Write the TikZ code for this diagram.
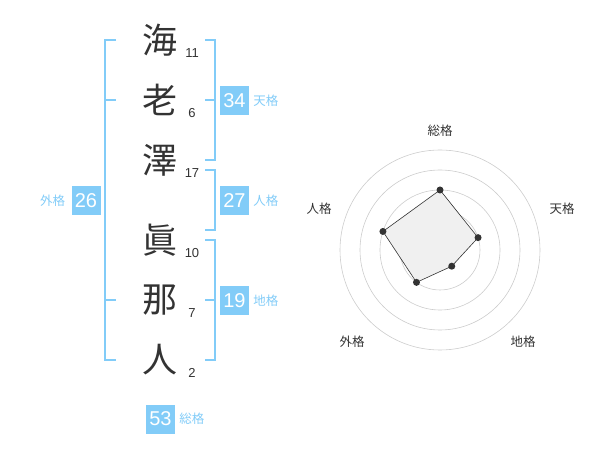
\documentclass[tikz,border=0pt]{standalone}
\usepackage{fontspec}
\setmainfont{Liberation Sans}
\newfontfamily\cjk{Noto Sans CJK JP}
\usetikzlibrary{positioning}
\definecolor{kakublue}{RGB}{130,204,248}
\definecolor{inkgray}{RGB}{51,51,51}
\definecolor{ringgray}{RGB}{204,204,204}
\begin{document}
\begin{tikzpicture}[x=1pt,y=-1pt,
bracket/.style = {draw=kakublue, line width=2pt},
kanji/.style = {text=inkgray, font=\cjk\fontsize{35}{35}\selectfont, inner sep=0pt},
stroke-num/.style = {text=inkgray, font=\fontsize{13}{13}\selectfont, inner sep=0pt},
kaku-box/.style = {fill=kakublue, text=white, minimum size=29pt, inner sep=0pt, font=\fontsize{20}{20}\selectfont},
kaku-label/.style = {text=kakublue, font=\cjk\fontsize{12.5}{12.5}\selectfont, inner sep=0pt},
ring/.style = {draw=ringgray, line width=0.6pt},
axis-label/.style = {text=inkgray, font=\cjk\fontsize{12.5}{12.5}\selectfont, inner sep=0pt},
dot/.style = {fill=inkgray}
]
\useasboundingbox (0,0) rectangle (600,470);
% name
\node[kanji] (c1) at (160,40) {海};
\node[kanji] (c2) at (160,100) {老};
\node[kanji] (c3) at (160,160) {澤};
\node[kanji] (c4) at (160,240) {眞};
\node[kanji] (c5) at (160,300) {那};
\node[kanji] (c6) at (160,360) {人};
\node[stroke-num] (n1) at (192,53) {11};
\node[stroke-num] (n2) at (192,113) {6};
\node[stroke-num] (n3) at (192,173) {17};
\node[stroke-num] (n4) at (192,253) {10};
\node[stroke-num] (n5) at (192,313) {7};
\node[stroke-num] (n6) at (192,373) {2};
% brackets
\draw[bracket] (116,40) -- (105,40) -- (105,360) -- (116,360)
    (105,100) -- (116,100)
    (105,300) -- (116,300);
\draw[bracket] (205,40) -- (215,40) -- (215,160) -- (205,160)
    (205,100) -- (215,100);
\draw[bracket] (205,170) -- (215,170) -- (215,230) -- (205,230);
\draw[bracket] (205,240) -- (215,240) -- (215,360) -- (205,360)
    (205,300) -- (215,300);
% totals
\node[kaku-box] (ten) at (234.5,100.5) {34};
\node[kaku-label, right=4pt of ten] (ten-label) {天格};
\node[kaku-box] (jin) at (234.5,200.5) {27};
\node[kaku-label, right=4pt of jin] (jin-label) {人格};
\node[kaku-box] (chi) at (234.5,300.5) {19};
\node[kaku-label, right=4pt of chi] (chi-label) {地格};
\node[kaku-box] (gai) at (86,200.5) {26};
\node[kaku-label, left=6pt of gai] (gai-label) {外格};
\node[kaku-box] (sou) at (160.5,419) {53};
\node[kaku-label, right=4pt of sou] (sou-label) {総格};
% radar
\begin{scope}[shift={(440,250)}]
\draw[ring] (0,0) circle (20pt) circle (40pt) circle (60pt) circle (80pt) circle (100pt);
\fill[ringgray] (0,0) circle (4pt);
\coordinate (p-sou) at (90:60pt);
\coordinate (p-ten) at (18:40pt);
\coordinate (p-chi) at (-54:20pt);
\coordinate (p-gai) at (-126:40pt);
\coordinate (p-jin) at (162:60pt);
\draw[fill=black!6, draw=inkgray, line width=0.6pt]
    (p-sou) -- (p-ten) -- (p-chi) -- (p-gai) -- (p-jin) -- cycle;
\fill[dot] (p-sou) circle (3.5pt) (p-ten) circle (3.5pt) (p-chi) circle (3.5pt)
    (p-gai) circle (3.5pt) (p-jin) circle (3.5pt);
\end{scope}
\node[axis-label] (r-sou) at (440,131) {総格};
\node[axis-label] (r-ten) at (562,209) {天格};
\node[axis-label] (r-chi) at (523,342) {地格};
\node[axis-label] (r-gai) at (352,342) {外格};
\node[axis-label] (r-jin) at (319,209) {人格};
\end{tikzpicture}
\end{document}
